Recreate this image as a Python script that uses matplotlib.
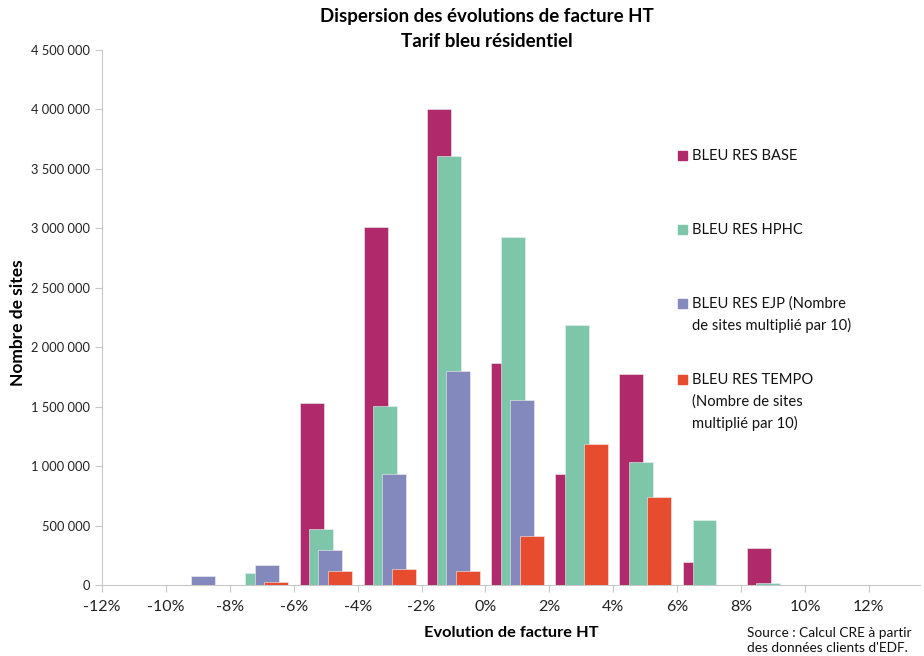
#!/usr/bin/env python3
"""Dispersion des évolutions de facture HT - tarif bleu résidentiel (bar histogram)."""

import matplotlib.pyplot as plt
from matplotlib.ticker import FuncFormatter, MultipleLocator

plt.rcParams['font.family'] = ['Lato', 'DejaVu Sans']

# Bin centres (%) of the invoice change classes
BINS = [-11, -9, -7, -5, -3, -1, 1, 3, 5, 7, 9, 11, 13]

# Number of sites per class (EJP and TEMPO already multiplied by 10)
BASE = [0, 0, 0, 1535000, 3015000, 4000000, 1868000, 934000, 1775000, 196000, 314000, 0, 0]
HPHC = [0, 0, 102000, 474000, 1507000, 3610000, 2929000, 2188000, 1035000, 547000, 14000, 0, 0]
EJP = [0, 78000, 166000, 297000, 934000, 1801000, 1557000, 0, 0, 0, 0, 0, 0]
TEMPO = [0, 0, 28000, 118000, 137000, 120000, 412000, 1187000, 743000, 0, 0, 0, 0]

SERIES = [
    ("BLEU RES BASE", BASE, "#B0296B"),
    ("BLEU RES HPHC", HPHC, "#7DC6A9"),
    ("BLEU RES EJP (Nombre\nde sites multiplié par 10)", EJP, "#8489BD"),
    ("BLEU RES TEMPO\n(Nombre de sites\nmultiplié par 10)", TEMPO, "#E84C2F"),
]

OFFSETS = [-0.44, -0.145, 0.15, 0.445]
BAR_WIDTH = 0.75


def thousands(v, _pos):
    return f"{int(v):,}".replace(",", " ")


def main() -> None:
    fig = plt.figure(figsize=(9.24, 6.56), dpi=100)
    ax = fig.add_axes([0.1104, 0.1082, 0.8853, 0.8156])

    for (label, values, color), off in zip(SERIES, OFFSETS):
        ax.bar([b + off for b in BINS], values, width=BAR_WIDTH, color=color,
               edgecolor="#f0f0f0", linewidth=0.4, zorder=3)

    ax.set_xlim(-12, 13.6)
    ax.set_ylim(0, 4500000)
    ax.xaxis.set_major_locator(MultipleLocator(2))
    ax.yaxis.set_major_locator(MultipleLocator(500000))
    ax.xaxis.set_major_formatter(FuncFormatter(lambda v, _p: f"{int(round(v))}%"))
    ax.yaxis.set_major_formatter(FuncFormatter(thousands))

    for side in ("top", "right"):
        ax.spines[side].set_visible(False)
    for side in ("left", "bottom"):
        ax.spines[side].set_color("#c8c8c8")
        ax.spines[side].set_linewidth(0.8)
    ax.tick_params(axis="both", colors="#c8c8c8", labelcolor="#222222",
                   labelsize=9.3, length=5, width=0.8)
    ax.tick_params(axis="x", labelsize=11.5, pad=6)

    ax.set_xlabel("Evolution de facture HT", fontsize=11.8, fontweight="bold")
    ax.xaxis.set_label_coords(0.5, -0.076)
    ax.set_ylabel("Nombre de sites", fontsize=12.5, fontweight="bold")
    ax.yaxis.set_label_coords(-0.093, 0.49)

    fig.text(0.527, 0.988, "Dispersion des évolutions de facture HT\nTarif bleu résidentiel",
             ha="center", va="top", fontsize=13.5, fontweight="bold", linespacing=1.55)

    # Legend drawn as separate entries, handle aligned with first text line
    legend_y = [155, 229, 303, 380]
    for (label, _values, color), y in zip(SERIES, legend_y):
        fy = 1 - y / 656
        fig.patches.append(plt.Rectangle((678 / 924, fy - 4.5 / 656), 8.5 / 924, 9 / 656,
                                         transform=fig.transFigure, color=color))
        fig.text(692 / 924, fy + 6.5 / 656, label, ha="left", va="top", fontsize=10.6,
                 linespacing=1.6, color="#111111")

    fig.text(747 / 924, 1 - 627 / 656, "Source : Calcul CRE à partir\ndes données clients d'EDF.",
             ha="left", va="top", fontsize=9.8, linespacing=1.35, color="#111111")

    fig.savefig("out.png", dpi=100)
    plt.close(fig)


if __name__ == "__main__":
    main()
